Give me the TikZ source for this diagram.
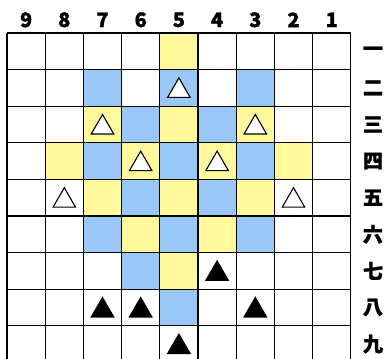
\documentclass[tikz,border=0pt]{standalone}
\usepackage{fontspec}
\newfontfamily\jpfont{Noto Sans CJK JP}[BoldFeatures={FakeBold=1.2}]
\newcommand\lblfont{\fontsize{20pt}{20pt}\selectfont\jpfont\bfseries}
\usepackage{xcolor}
\usetikzlibrary{shapes.geometric}
\definecolor{boardYellow}{HTML}{FFF99C}
\definecolor{boardBlue}{HTML}{9AC8F6}

\begin{document}
\begin{tikzpicture}[x=1pt, y=1pt,
  sqY/.style={fill=boardYellow},
  sqB/.style={fill=boardBlue},
  gote/.style={regular polygon,regular polygon sides=3,draw=black,fill=white,
    line width=1.1pt,minimum size=26pt,inner sep=0pt,yshift=-3pt},
  sente/.style={gote,fill=black},
  lbl/.style={font=\lblfont,inner sep=0pt}]
\useasboundingbox (0,0) rectangle (390,358);
\fill[white] (0,0) rectangle (390,358);
% --- board, file 9 on the left, rank 1 at the top ---
\begin{scope}[shift={(7,325)}, x=38.2pt, y=-36.6pt]
  \foreach \f/\r in {5/1,7/3,5/3,3/3,8/4,6/4,4/4,2/4,7/5,5/5,3/5,6/6,4/6,5/7}
    \fill[sqY] ({9-\f},\r-1) rectangle ++(1,1);
  \foreach \f/\r in {7/2,5/2,3/2,6/3,4/3,7/4,5/4,3/4,6/5,4/5,7/6,5/6,3/6,6/7,5/8}
    \fill[sqB] ({9-\f},\r-1) rectangle ++(1,1);
  \foreach \i in {0,...,9} {
    \draw[line width=1.3pt] (\i,0) -- (\i,9);
    \draw[line width=1.3pt] (0,\i) -- (9,\i);
  }
  % pieces
  \foreach \f/\r in {5/2,7/3,3/3,6/4,4/4,8/5,2/5}
    \node[gote] (w\f\r) at ({9-\f+0.5},\r-0.5) {};
  \foreach \f/\r in {4/7,7/8,6/8,3/8,5/9}
    \node[sente] (b\f\r) at ({9-\f+0.5},\r-0.5) {};
  % file numbers and rank numerals
  \foreach \n in {9,...,1}
    \node[lbl] (c\n) at ({9-\n+0.5},-0.36) {\n};
  \foreach \k [count=\r] in {一,二,三,四,五,六,七,八,九}
    \node[lbl] (r\r) at (9.58,\r-0.5) {\k};
\end{scope}
\end{tikzpicture}
\end{document}
